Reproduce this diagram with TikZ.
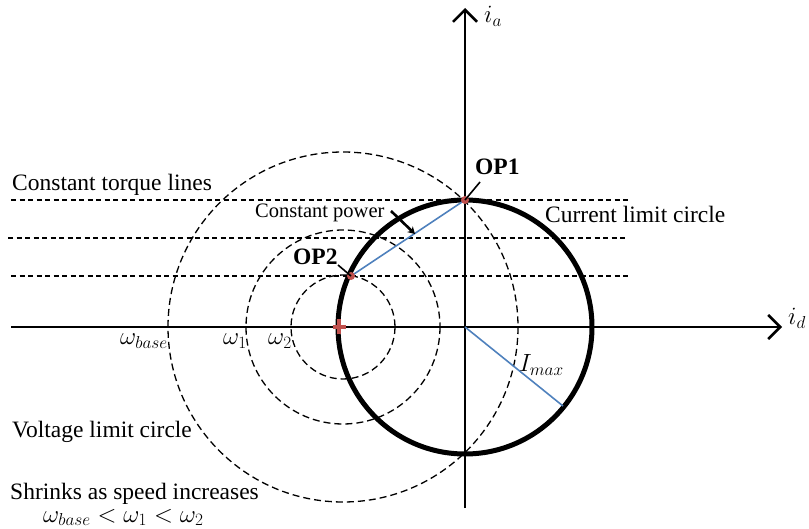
\documentclass[tikz,border=0pt]{standalone}
\usepackage{fontspec}
\setmainfont{Liberation Serif}
\usetikzlibrary{arrows.meta}
\definecolor{opred}{RGB}{192,80,77}
\definecolor{lineblue}{RGB}{79,129,189}
\begin{document}
\begin{tikzpicture}[x=1pt,y=-1pt,
  axisline/.style={line width=2.5pt,-{Straight Barb[length=12pt,width=24pt]}},
  torque/.style={line width=1.3pt,dash pattern=on 5pt off 3.5pt},
  vcircle/.style={line width=1.3pt,dash pattern=on 7pt off 4pt},
  icircle/.style={line width=5pt},
  bluel/.style={lineblue,line width=1.6pt},
  txt/.style={font=\fontsize{23.5}{28}\selectfont,inner sep=0pt,anchor=base west},
  smalltxt/.style={font=\fontsize{20.5}{24}\selectfont,inner sep=0pt,anchor=base west},
  optxt/.style={font=\fontsize{23.5}{28}\selectfont\bfseries,inner sep=0pt,anchor=base west},
  mlbl/.style={font=\fontsize{25}{28}\selectfont,inner sep=0pt,anchor=base east},
  mtxt/.style={font=\fontsize{25}{28}\selectfont,inner sep=0pt,anchor=base west},
  pointer/.style={line width=1.6pt},
  opdot/.style={circle,fill=opred,inner sep=0pt,minimum size=8pt}
]
\path[use as bounding box] (0,0) rectangle (809,529);

% coordinates
\coordinate (O) at (465,327);
\coordinate (V) at (343,327);
\coordinate (xstart) at (11,327);
\coordinate (xend) at (782,327);
\coordinate (ystart) at (465,508);
\coordinate (yend) at (465,8);

% constant torque lines
\coordinate (t1a) at (11,200); \coordinate (t1b) at (628,200);
\coordinate (t2a) at (8,238);  \coordinate (t2b) at (626,238);
\coordinate (t3a) at (11,276); \coordinate (t3b) at (630,276);
\draw[torque] (t1a) -- (t1b);
\draw[torque] (t2a) -- (t2b);
\draw[torque] (t3a) -- (t3b);

% voltage limit circles
\draw[vcircle] (V) circle[radius=175];
\draw[vcircle] (V) circle[radius=97];
\draw[vcircle] (V) circle[radius=52];

% axes
\draw[axisline] (xstart) -- (xend);
\draw[axisline] (ystart) -- (yend);

% current limit circle
\draw[icircle] (O) circle[radius=127];

% operating points
\coordinate (op1) at (465,200);
\coordinate (op2) at (351,276);
\coordinate (imaxend) at (563,406);
\draw[bluel] (op1) -- (op2);
\draw[bluel] (O) -- (imaxend);

% red cross
\coordinate (cross) at (339,327);
\draw[opred,line width=3.8pt] ([xshift=-6.5pt]cross) -- ([xshift=6.5pt]cross);
\draw[opred,line width=3.8pt] ([yshift=-7.5pt]cross) -- ([yshift=7.5pt]cross);

\node[opdot] (p1) at (op1) {};
\node[opdot] (p2) at (op2) {};

% labels
\node[optxt] (lop1) at (475,175) {OP1};
\node[optxt] (lop2) at (293,265) {OP2};
\coordinate (lop1p) at (480,182);
\coordinate (lop2p) at (338,265);
\draw[pointer] (lop1p) -- (op1);
\draw[pointer] (lop2p) -- (op2);

\node[txt] (ctl) at (12,191) {Constant torque lines};
\node[smalltxt] (cp) at (255,218) {Constant power};
\coordinate (cpa) at (391,211);
\coordinate (cpb) at (415,234);
\draw[line width=2.6pt,-{Stealth[length=7pt,width=8pt]}] (cpa) -- (cpb);
\node[txt] (clc) at (545,223) {Current limit circle};
\node[txt] (vlc) at (12,437) {Voltage limit circle};
\node[txt] (shr) at (10,499) {Shrinks as speed increases};
\node[mtxt] (ineq) at (43,522) {$\omega_{base}<\omega_1<\omega_2$};

\node[mlbl] (wb) at (168,345) {$\omega_{base}$};
\node[mlbl] (w1) at (247,345) {$\omega_1$};
\node[mlbl] (w2) at (292,345) {$\omega_2$};

\node[mtxt] (imax) at (519,372) {$I_{max}$};
\node[mtxt] (ia) at (484,23) {$i_a$};
\node[mtxt] (id) at (788,325) {$i_d$};
\end{tikzpicture}
\end{document}
